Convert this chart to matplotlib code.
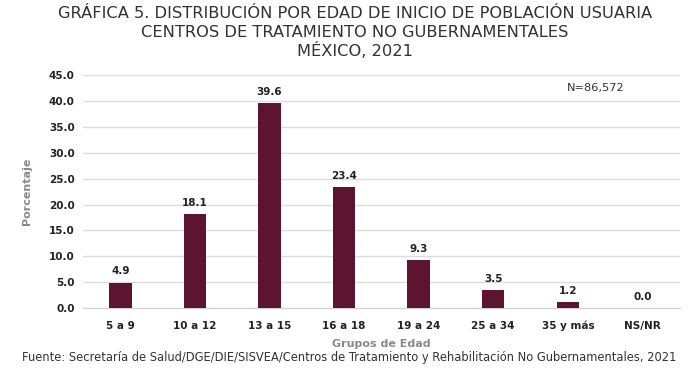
import matplotlib
matplotlib.use("Agg")
import matplotlib.pyplot as plt
import numpy as np

grupos = ["5 a 9", "10 a 12", "13 a 15", "16 a 18", "19 a 24", "25 a 34", "35 y más", "NS/NR"]
porcentaje = [4.9, 18.1, 39.6, 23.4, 9.3, 3.5, 1.2, 0.0]
yticks = np.arange(0, 45.1, 5)

fig = plt.figure(figsize=(7, 3.87), dpi=100)
ax = fig.add_axes([0.1186, 0.204, 0.8524, 0.602])

x = np.arange(len(grupos))
ax.bar(x, porcentaje, width=0.3, color="#5c1431", zorder=3)
for xi, v in zip(x, porcentaje):
    ax.text(xi, v + 1.2, "%.1f" % v, ha="center", va="bottom", fontsize=7.5,
            fontweight="bold", color="#222222")

ax.set_xlim(-0.5, len(grupos) - 0.5)
ax.set_ylim(0, 45)
ax.set_yticks(yticks)
ax.set_yticklabels(["%.1f" % t for t in yticks], fontsize=7.5, fontweight="bold", color="#222222")
ax.set_xticks(x)
ax.set_xticklabels(grupos, fontsize=7.5, fontweight="bold", color="#222222")
ax.tick_params(axis="y", length=0, pad=6)
ax.tick_params(axis="x", length=0, pad=9)
ax.grid(axis="y", color="#dddddd", linewidth=1, zorder=0)
for s in ["top", "right", "left"]:
    ax.spines[s].set_visible(False)
ax.spines["bottom"].set_color("#d0d0d0")

ax.set_ylabel("Porcentaje", fontsize=8, fontweight="bold", color="#8a8a8a", labelpad=12)
ax.set_xlabel("Grupos de Edad", fontsize=8, fontweight="bold", color="#8a8a8a", labelpad=6)

ax.text(0.86, 0.93, "N=86,572", transform=ax.transAxes, fontsize=8.2,
        color="#333333", ha="center")

titulo = ["GRÁFICA 5. DISTRIBUCIÓN POR EDAD DE INICIO DE POBLACIÓN USUARIA",
          "CENTROS DE TRATAMIENTO NO GUBERNAMENTALES",
          "MÉXICO, 2021"]
for i, linea in enumerate(titulo):
    fig.text(0.507, 1 - (14 + 18.5 * i) / 387, linea, ha="center", va="center",
             fontsize=11.7, color="#333333")
fig.text(0.032, 0.077, "Fuente: Secretaría de Salud/DGE/DIE/SISVEA/Centros de Tratamiento y "
         "Rehabilitación No Gubernamentales, 2021", fontsize=8.3,
         color="#333333", va="center")

fig.savefig("out.png", dpi=100)
